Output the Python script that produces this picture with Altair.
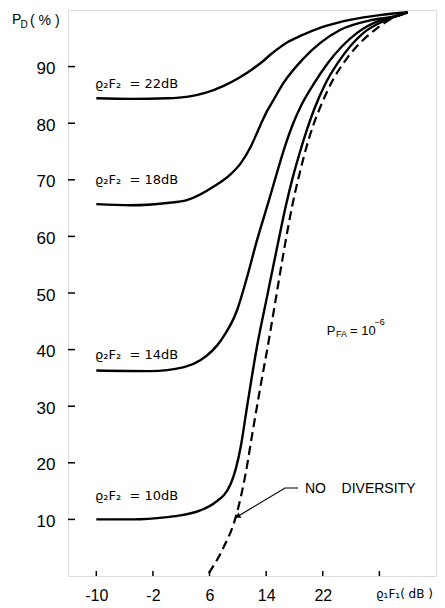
import altair as alt
import pandas as pd

# ---- curve data ----
v22 = [-10, -5, 0, 3, 5.5, 8, 10, 12, 13.5, 14.5, 15.5, 17, 19, 22, 26, 30, 34]
p22 = [84.4, 84.3, 84.4, 84.7, 85.4, 86.6, 87.9, 89.5, 90.9, 92.0, 93.0, 94.3, 95.5, 97.0, 98.3, 99.1, 99.6]

v18 = [-10, -5.2, 0, 2.8, 6.6, 9.0, 10.4, 11.8, 13.2, 14.2, 14.9, 16.5, 19.1, 24.5, 28.8, 32.6, 34]
p18 = [65.7, 65.5, 65.9, 66.4, 68.8, 71.0, 72.9, 75.8, 79.7, 82.3, 83.8, 87.2, 91.2, 96.5, 98.2, 99.0, 99.6]

v14 = [-10, -2.4, 2.4, 4.7, 7.6, 9.9, 11.3, 12.7, 14.4, 15.1, 16.5, 17.7, 18.9, 20.7, 22.7, 26.9, 30.2, 32.6, 34]
p14 = [36.3, 36.2, 36.9, 38.1, 41.6, 47.0, 52.8, 59.3, 66.4, 69.4, 75.3, 79.6, 83.0, 86.9, 90.6, 96.0, 98.2, 99.0, 99.6]

v10 = [-10, -4.8, 0, 1.9, 4.7, 6.6, 9.0, 10.4, 11.3, 12.7, 14.2, 15.6, 16.8, 17.8, 18.8, 19.8, 20.8, 22.3, 24.1, 27.8, 30.9, 32.6, 34]
p10 = [10.0, 10.0, 10.4, 10.7, 11.6, 12.8, 16.3, 22.8, 29.9, 40.5, 49.8, 58.4, 65.5, 70.6, 75.0, 79.0, 82.5, 86.8, 90.6, 96.0, 98.2, 99.0, 99.6]

vnd = [5.9, 8.0, 9.7, 11.1, 12.0, 13.2, 14.4, 15.3, 16.5, 17.7, 18.7, 19.7, 20.7, 21.7, 23.5, 25.5, 29.7, 32.6, 34]
pnd = [0.5, 5.1, 10.4, 18.1, 24.8, 33.5, 41.8, 48.5, 57.4, 65.5, 71.0, 75.8, 79.8, 83.0, 87.8, 91.6, 96.8, 99.0, 99.6]

x_tick_values = [-10, -2, 6, 14, 22, 30]
y_tick_values = [10, 20, 30, 40, 50, 60, 70, 80, 90]

# curve labels and x-axis title (DejaVu Sans, data coordinates)
lab_text = ["ϱ₂F₂\u00a0\u00a0=\u00a022dB", "ϱ₂F₂\u00a0\u00a0=\u00a018dB", "ϱ₂F₂\u00a0\u00a0=\u00a014dB",
            "ϱ₂F₂\u00a0\u00a0=\u00a010dB", "ϱ₁F₁(\u00a0dB\u00a0)"]
lab_x = [-10.18, -10.18, -10.18, -10.18, 29.52]
lab_y = [86.2, 69.3, 38.4, 13.4, -3.9]
lab_fs = [13, 13, 13, 13, 12]

# other annotations (Liberation Sans, data coordinates)
ann_text = ["NO\u00a0\u00a0\u00a0\u00a0DIVERSITY", "P", "FA", "=\u00a010", "−6", "P", "D", "(\u00a0%\u00a0)"]
ann_x = [19.49, 22.55, 23.87, 25.84, 29.3, -21.9, -20.71, -19.37]
ann_y = [14.7, 42.6, 42.2, 42.6, 44.35, 97.5, 96.8, 97.4]
ann_fs = [14, 13, 9, 13, 9, 14, 10, 14]

# leader line for "NO DIVERSITY"
lead_x = [18.5, 16.66, 9.6]
lead_y = [15.55, 15.55, 10.25]
arrow_x = [10.08]
arrow_y = [10.6]

# ---- tables ----
rows = []
for name, xs, ys in [("22", v22, p22), ("18", v18, p18), ("14", v14, p14), ("10", v10, p10)]:
    for a, b in zip(xs, ys):
        rows.append({"series": name, "x": a, "y": b})
solid_df = pd.DataFrame(rows)
dash_df = pd.DataFrame({"x": vnd, "y": pnd})
lab_df = pd.DataFrame({"x": lab_x, "y": lab_y, "t": lab_text, "fs": lab_fs})
ann_df = pd.DataFrame({"x": ann_x, "y": ann_y, "t": ann_text, "fs": ann_fs})
lead_df = pd.DataFrame({"x": lead_x, "y": lead_y, "o": list(range(len(lead_x)))})
arrow_df = pd.DataFrame({"x": arrow_x, "y": arrow_y})
ytick_df = pd.DataFrame({"y": y_tick_values})
xtick_df = pd.DataFrame({"x": x_tick_values})

xscale = alt.Scale(domain=[-14, 38], nice=False, zero=False)
yscale = alt.Scale(domain=[0, 100], nice=False, zero=False)

xaxis = alt.Axis(values=x_tick_values,
                 labelExpr="datum.value == 30 ? '' : toString(datum.value)",
                 domain=False, ticks=False, tickSize=0, grid=False,
                 labelPadding=11, labelFontSize=16, labelFont="Liberation Sans",
                 labelColor="black")
yaxis = alt.Axis(values=y_tick_values, domain=False, ticks=False, tickSize=0, grid=False,
                 labelPadding=13, labelFontSize=17, labelFont="Liberation Sans",
                 labelColor="black", labelOffset=2)


def X(field="x:Q"):
    return alt.X(field, scale=xscale, axis=xaxis, title=None)


def Y(field="y:Q"):
    return alt.Y(field, scale=yscale, axis=yaxis, title=None)


solid = alt.Chart(solid_df).mark_line(color="black", strokeWidth=2.4, interpolate="monotone").encode(
    x=X(), y=Y(), detail="series:N")

dashed = alt.Chart(dash_df).mark_line(color="black", strokeWidth=2.2, strokeDash=[9, 5],
                                      interpolate="monotone").encode(x=X(), y=Y())

ytick = alt.Chart(ytick_df).mark_rule(color="black", strokeWidth=1.5).encode(
    y=Y(), x=alt.value(0), x2=alt.value(7))
xtick = alt.Chart(xtick_df).mark_rule(color="black", strokeWidth=1.5).encode(
    x=X(), y=alt.value(566), y2=alt.value(561))

lead = alt.Chart(lead_df).mark_line(color="black", strokeWidth=1.2).encode(
    x=X(), y=Y(), order="o:Q")
arrow = alt.Chart(arrow_df).mark_point(shape="triangle", filled=True, color="black",
                                       size=35, angle=239, opacity=1).encode(x=X(), y=Y())

labels = alt.Chart(lab_df).mark_text(align="left", baseline="alphabetic", color="black",
                                     font="DejaVu Sans").encode(
    x=X(), y=Y(), text="t:N", size=alt.Size("fs:Q", scale=None, legend=None))

texts = alt.Chart(ann_df).mark_text(align="left", baseline="alphabetic", color="black",
                                    font="Liberation Sans").encode(
    x=X(), y=Y(), text="t:N", size=alt.Size("fs:Q", scale=None, legend=None))

chart = alt.layer(solid, dashed, ytick, xtick, lead, arrow, labels, texts).properties(
    width=368, height=566,
    autosize=alt.AutoSizeParams(type="none"),
    padding={"left": 60, "top": 2, "right": 1, "bottom": 28},
).configure_view(stroke="black", strokeWidth=2).configure(background="white")

chart.save("out.html", embed_options={"renderer": "svg", "actions": False})
